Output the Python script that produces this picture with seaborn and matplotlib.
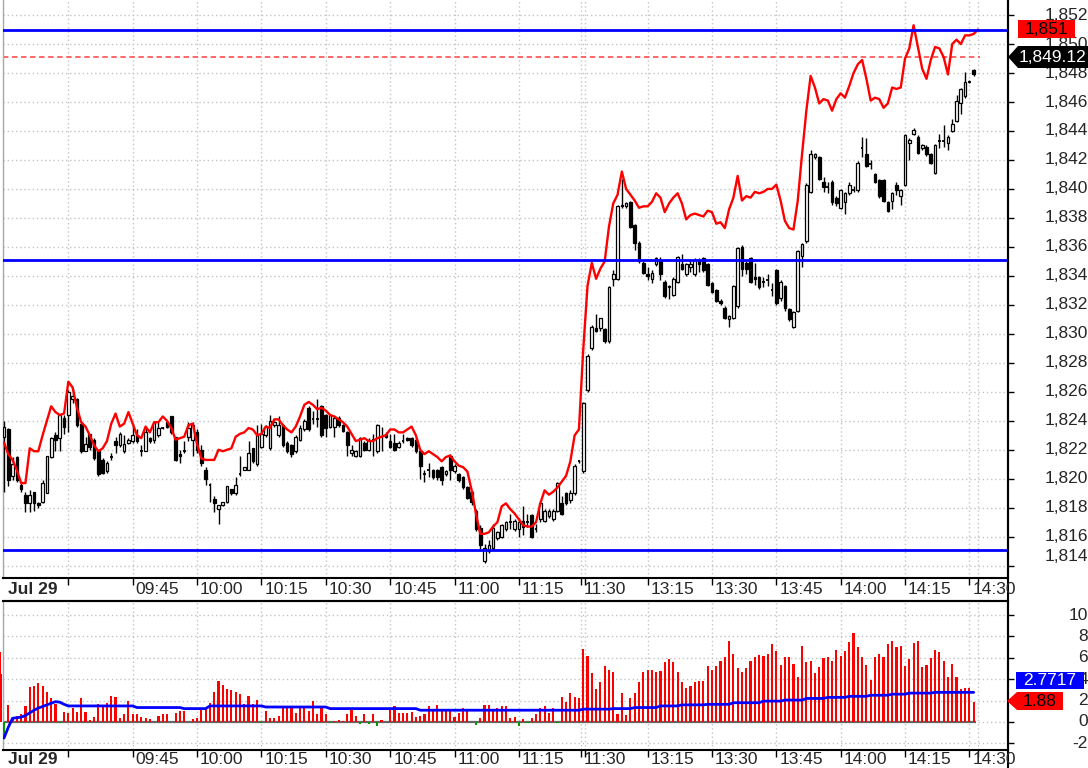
import numpy as np
import pandas as pd
import seaborn as sns
import matplotlib.pyplot as plt
from matplotlib import transforms
from matplotlib.patches import Polygon

# 1-minute bars, index 0 = 09:15, morning ends at 134, afternoon starts at 135 (13:00)
opens = [
    1822.9, 1823.4, 1820.2, 1821.5, 1819.6, 1818.9, 1818.3, 1819.1, 1818.3, 1818.4,
    1819.0, 1821.5, 1823.0, 1822.8, 1824.2, 1824.4, 1825.5, 1825.5, 1823.8, 1821.9,
    1823.1, 1822.7, 1822.0, 1821.3, 1820.5, 1821.5, 1822.6, 1822.3, 1821.9, 1822.5,
    1822.6, 1823.0, 1821.9, 1821.9, 1822.8, 1822.7, 1823.0, 1823.5, 1823.9, 1824.3,
    1822.9, 1821.7, 1821.9, 1822.9, 1822.7, 1823.2, 1822.0, 1820.6, 1819.6, 1818.6,
    1817.9, 1818.2, 1818.4, 1819.3, 1819.0, 1820.3, 1820.6, 1820.6, 1822.1, 1821.0,
    1822.2, 1823.0, 1822.1, 1823.7, 1823.0, 1823.7, 1822.5, 1822.3, 1821.9, 1822.7,
    1823.4, 1824.9, 1824.1, 1824.1, 1825.0, 1824.4, 1823.6, 1823.6, 1824.2, 1823.7,
    1823.2, 1821.8, 1821.6, 1821.6, 1822.5, 1822.0, 1822.7, 1821.9, 1822.9, 1823.1,
    1822.6, 1822.5, 1822.2, 1822.6, 1822.8, 1822.8, 1822.7, 1821.9, 1820.3, 1820.6,
    1820.6, 1820.6, 1820.8, 1820.3, 1821.6, 1820.5, 1820.3, 1820.1, 1819.4, 1819.1,
    1817.8, 1816.6, 1814.3, 1815.0, 1815.2, 1815.9, 1816.0, 1816.5, 1817.0, 1816.5,
    1816.5, 1817.1, 1817.0, 1817.5, 1816.5, 1817.2, 1817.1, 1817.4, 1817.2, 1817.8,
    1818.3, 1819.0, 1818.5, 1819.0, 1821.2, 1820.5, 1826.1, 1829.0, 1830.4, 1830.4,
    1830.3, 1829.5, 1833.8, 1833.8, 1838.9, 1838.8, 1839.1, 1837.5, 1836.3, 1834.9,
    1834.1, 1833.8, 1834.8, 1835.1, 1833.6, 1833.3, 1832.7, 1833.6, 1834.8, 1834.1,
    1834.6, 1834.1, 1835.1, 1835.2, 1834.8, 1833.5, 1833.0, 1832.3, 1831.8, 1831.0,
    1831.1, 1831.9, 1836.0, 1834.9, 1835.2, 1833.9, 1833.9, 1833.6, 1833.7, 1833.0,
    1834.4, 1832.5, 1833.3, 1831.7, 1830.5, 1831.6, 1835.4, 1836.4, 1839.8, 1842.2,
    1842.2, 1840.5, 1840.1, 1840.5, 1839.4, 1838.7, 1839.1, 1839.7, 1839.9, 1839.9,
    1842.8, 1842.4, 1841.7, 1841.0, 1840.6, 1840.6, 1839.1, 1839.2, 1840.3, 1839.5,
    1840.3, 1843.2, 1843.8, 1843.6, 1842.8, 1842.9, 1842.4, 1841.1, 1843.3, 1843.3,
    1843.2, 1844.0, 1844.7, 1845.9, 1846.4, 1847.4, 1848.2,
]
highs = [
    1824.0, 1823.5, 1821.5, 1821.6, 1819.8, 1819.1, 1819.2, 1819.1, 1818.4, 1819.9,
    1821.6, 1822.9, 1823.2, 1824.4, 1824.4, 1826.1, 1826.2, 1825.6, 1823.9, 1822.9,
    1823.1, 1822.8, 1822.0, 1821.4, 1821.2, 1821.8, 1822.9, 1823.2, 1823.0, 1822.8,
    1823.8, 1823.4, 1822.3, 1823.6, 1822.9, 1824.0, 1823.9, 1823.6, 1824.0, 1824.3,
    1822.9, 1822.0, 1822.6, 1823.9, 1823.9, 1823.4, 1822.3, 1820.8, 1819.7, 1818.8,
    1818.2, 1818.4, 1819.5, 1819.3, 1820.1, 1821.6, 1820.8, 1822.6, 1822.1, 1823.7,
    1823.8, 1823.7, 1824.4, 1824.0, 1824.3, 1823.8, 1822.6, 1822.4, 1823.0, 1823.7,
    1824.1, 1825.0, 1824.7, 1825.5, 1825.1, 1824.5, 1824.5, 1824.3, 1824.3, 1823.8,
    1823.3, 1822.3, 1822.0, 1822.9, 1822.6, 1822.8, 1823.1, 1823.8, 1823.6, 1823.2,
    1823.1, 1823.1, 1822.6, 1823.1, 1822.9, 1822.9, 1822.8, 1822.0, 1820.6, 1821.1,
    1820.7, 1820.7, 1820.9, 1820.6, 1821.7, 1821.0, 1820.4, 1820.2, 1819.5, 1819.2,
    1817.9, 1816.8, 1815.5, 1815.8, 1816.9, 1816.4, 1816.9, 1817.1, 1817.6, 1817.2,
    1817.3, 1818.1, 1817.6, 1817.6, 1816.9, 1818.4, 1817.9, 1817.9, 1817.9, 1819.8,
    1818.8, 1819.1, 1819.2, 1821.0, 1821.3, 1825.3, 1828.6, 1830.6, 1831.4, 1831.1,
    1830.4, 1833.3, 1834.4, 1838.9, 1840.7, 1839.1, 1839.2, 1837.6, 1836.4, 1835.0,
    1834.6, 1834.4, 1835.3, 1835.3, 1833.7, 1833.4, 1833.9, 1835.4, 1835.5, 1834.9,
    1835.1, 1835.2, 1835.2, 1835.3, 1834.9, 1833.6, 1833.1, 1832.4, 1831.9, 1831.3,
    1833.4, 1836.0, 1836.1, 1835.0, 1835.3, 1834.9, 1834.0, 1833.9, 1834.1, 1833.5,
    1834.5, 1833.7, 1833.4, 1831.8, 1831.6, 1835.8, 1836.3, 1840.4, 1842.7, 1842.5,
    1842.3, 1840.8, 1840.5, 1840.6, 1839.5, 1840.0, 1839.8, 1840.5, 1840.2, 1841.9,
    1843.6, 1843.5, 1842.0, 1841.1, 1840.7, 1840.7, 1839.2, 1839.8, 1840.5, 1840.0,
    1843.8, 1843.5, 1844.2, 1843.7, 1843.1, 1843.0, 1842.5, 1843.1, 1843.8, 1844.4,
    1843.7, 1844.8, 1846.5, 1847.0, 1848.1, 1847.5, 1848.3,
]
lows = [
    1819.1, 1819.5, 1819.9, 1819.8, 1819.1, 1817.7, 1817.7, 1817.8, 1818.0, 1818.3,
    1819.0, 1821.4, 1821.9, 1821.9, 1823.1, 1823.2, 1825.2, 1823.6, 1821.8, 1821.9,
    1822.0, 1821.3, 1820.2, 1820.3, 1820.4, 1821.3, 1821.8, 1822.2, 1821.8, 1822.4,
    1822.5, 1822.5, 1821.6, 1821.9, 1822.5, 1822.5, 1822.9, 1823.4, 1823.5, 1823.1,
    1821.2, 1821.1, 1821.8, 1822.6, 1821.6, 1821.8, 1820.9, 1819.6, 1818.4, 1817.7,
    1816.9, 1818.1, 1818.3, 1818.9, 1818.9, 1820.2, 1820.6, 1820.6, 1821.1, 1820.9,
    1822.1, 1822.9, 1822.0, 1823.6, 1822.9, 1822.2, 1821.8, 1821.5, 1821.8, 1822.6,
    1823.3, 1823.3, 1823.8, 1823.6, 1822.9, 1822.9, 1823.5, 1822.9, 1823.6, 1823.2,
    1821.6, 1821.6, 1821.5, 1821.5, 1821.9, 1821.9, 1821.6, 1821.8, 1821.9, 1822.8,
    1822.1, 1821.9, 1822.1, 1822.5, 1822.6, 1822.2, 1821.8, 1820.0, 1819.8, 1820.1,
    1820.0, 1819.9, 1819.6, 1820.2, 1819.9, 1820.4, 1819.8, 1819.3, 1818.6, 1818.2,
    1816.4, 1815.0, 1814.2, 1814.9, 1815.1, 1815.8, 1815.9, 1816.4, 1816.5, 1816.4,
    1816.0, 1816.1, 1816.7, 1815.9, 1816.3, 1817.0, 1817.0, 1817.3, 1817.1, 1817.7,
    1817.5, 1818.2, 1818.3, 1818.9, 1821.1, 1820.4, 1826.0, 1828.9, 1830.1, 1830.2,
    1829.4, 1829.4, 1833.3, 1833.7, 1838.7, 1838.7, 1837.3, 1835.8, 1834.9, 1834.1,
    1833.7, 1833.5, 1834.7, 1833.7, 1832.5, 1832.4, 1832.6, 1833.5, 1834.4, 1834.0,
    1834.3, 1834.0, 1834.3, 1834.3, 1833.3, 1832.8, 1832.2, 1832.0, 1831.0, 1830.5,
    1831.0, 1831.8, 1834.0, 1834.1, 1833.5, 1833.4, 1833.1, 1833.2, 1833.3, 1832.6,
    1832.0, 1832.3, 1831.6, 1830.9, 1830.4, 1831.5, 1834.6, 1836.3, 1839.7, 1842.1,
    1840.6, 1839.8, 1839.7, 1838.9, 1838.8, 1838.6, 1838.3, 1839.6, 1839.8, 1839.8,
    1842.2, 1841.5, 1841.4, 1840.4, 1839.4, 1839.1, 1838.4, 1838.6, 1839.6, 1838.9,
    1840.2, 1842.0, 1843.7, 1842.4, 1842.7, 1842.3, 1841.7, 1841.0, 1842.8, 1842.9,
    1842.7, 1843.9, 1844.6, 1845.2, 1846.3, 1847.3, 1847.8,
]
closes = [
    1823.6, 1819.9, 1821.0, 1819.9, 1819.3, 1818.3, 1818.9, 1818.3, 1818.2, 1819.7,
    1821.6, 1822.8, 1822.7, 1824.4, 1823.6, 1826.0, 1825.7, 1823.7, 1821.9, 1822.4,
    1822.2, 1821.4, 1820.3, 1820.4, 1821.1, 1821.5, 1822.3, 1823.1, 1822.4, 1822.7,
    1823.0, 1822.6, 1821.9, 1823.2, 1822.6, 1823.9, 1823.5, 1823.5, 1823.6, 1823.2,
    1821.3, 1821.6, 1821.9, 1823.5, 1823.7, 1822.0, 1821.1, 1820.0, 1819.6, 1818.3,
    1818.2, 1818.4, 1819.5, 1819.0, 1819.6, 1820.3, 1820.8, 1821.8, 1821.2, 1823.0,
    1823.1, 1823.6, 1824.0, 1823.9, 1823.7, 1822.3, 1821.9, 1821.7, 1822.9, 1823.5,
    1824.0, 1823.4, 1824.1, 1824.1, 1823.0, 1823.5, 1824.4, 1824.2, 1823.7, 1823.3,
    1822.3, 1822.0, 1821.9, 1822.8, 1822.0, 1822.7, 1822.7, 1823.7, 1822.9, 1822.9,
    1822.2, 1822.0, 1822.5, 1822.6, 1822.7, 1822.3, 1821.9, 1820.9, 1820.3, 1820.6,
    1820.1, 1820.1, 1819.9, 1820.5, 1820.6, 1820.9, 1819.9, 1819.4, 1818.7, 1818.4,
    1816.5, 1815.4, 1815.2, 1815.4, 1816.6, 1816.3, 1816.8, 1817.0, 1817.0, 1817.1,
    1817.0, 1816.7, 1817.0, 1816.0, 1816.5, 1818.3, 1817.8, 1817.8, 1817.8, 1819.7,
    1817.6, 1818.3, 1819.0, 1820.9, 1821.2, 1825.2, 1828.5, 1830.5, 1830.2, 1831.1,
    1829.5, 1833.2, 1834.1, 1838.8, 1838.8, 1839.0, 1837.4, 1836.3, 1835.0, 1834.2,
    1834.0, 1834.2, 1835.2, 1834.1, 1832.6, 1833.2, 1833.8, 1835.3, 1834.5, 1834.8,
    1834.8, 1835.1, 1834.8, 1834.4, 1833.4, 1832.9, 1832.3, 1832.1, 1831.1, 1831.2,
    1833.3, 1835.9, 1834.5, 1834.5, 1833.6, 1833.8, 1833.2, 1833.6, 1833.7, 1833.0,
    1832.1, 1833.6, 1831.8, 1831.0, 1831.5, 1835.7, 1836.2, 1840.3, 1842.4, 1842.4,
    1840.7, 1840.1, 1840.1, 1839.1, 1839.0, 1839.9, 1839.7, 1840.3, 1839.9, 1841.8,
    1842.8, 1841.6, 1841.7, 1840.5, 1839.5, 1839.2, 1838.5, 1839.7, 1839.9, 1839.9,
    1843.7, 1843.4, 1844.1, 1842.5, 1843.0, 1842.4, 1841.8, 1843.0, 1843.3, 1843.3,
    1843.6, 1844.5, 1846.1, 1846.9, 1847.4, 1847.4, 1847.9,
]
# red indicator line (one point longer than the candles)
red_line = [
    1822.5, 1821.7, 1821.3, 1820.6, 1819.7, 1819.7, 1822.1, 1821.9, 1821.9, 1823.0,
    1824.0, 1825.0, 1824.6, 1824.4, 1824.5, 1826.7, 1826.3, 1824.9, 1823.9, 1823.6,
    1823.0, 1822.3, 1821.9, 1822.1, 1822.6, 1823.8, 1824.5, 1823.6, 1823.8, 1824.6,
    1823.8, 1823.0, 1822.8, 1823.6, 1823.2, 1823.9, 1823.9, 1824.3, 1824.0, 1823.5,
    1822.7, 1822.8, 1822.9, 1823.7, 1823.8, 1822.4, 1821.4, 1821.3, 1821.3, 1821.3,
    1822.0, 1821.9, 1822.0, 1822.1, 1822.9, 1823.1, 1823.2, 1823.5, 1823.4, 1823.0,
    1823.1, 1823.6, 1823.5, 1824.1, 1824.1, 1823.7, 1823.4, 1823.2, 1823.6, 1824.3,
    1825.1, 1825.3, 1825.1, 1824.8, 1824.9, 1824.7, 1824.4, 1824.3, 1824.1, 1823.9,
    1823.6, 1823.1, 1822.6, 1822.7, 1822.8, 1822.6, 1822.6, 1822.8, 1822.9, 1823.0,
    1823.4, 1823.4, 1823.2, 1823.2, 1823.4, 1823.6, 1823.0, 1822.0, 1821.7, 1821.9,
    1821.7, 1821.5, 1821.2, 1821.5, 1821.6, 1821.2, 1820.9, 1820.8, 1820.5, 1819.2,
    1817.6, 1816.2, 1816.2, 1816.3, 1816.7, 1817.0, 1818.1, 1818.3, 1817.9, 1817.6,
    1817.2, 1816.8, 1816.7, 1816.7, 1817.0, 1818.3, 1819.2, 1818.9, 1819.1, 1819.4,
    1819.8, 1820.2, 1821.2, 1823.0, 1823.4, 1828.9, 1833.3, 1834.9, 1833.8, 1834.5,
    1835.0, 1837.4, 1839.0, 1839.6, 1841.2, 1840.0, 1839.6, 1839.2, 1838.7, 1838.8,
    1838.8, 1839.1, 1839.7, 1839.4, 1838.4, 1839.0, 1839.4, 1839.7, 1839.0, 1837.9,
    1838.2, 1838.3, 1838.2, 1838.1, 1838.5, 1838.4, 1837.6, 1837.7, 1837.3, 1838.6,
    1839.4, 1840.9, 1839.2, 1839.5, 1839.4, 1839.8, 1839.7, 1839.8, 1840.0, 1840.0,
    1840.3, 1839.2, 1837.8, 1837.3, 1837.2, 1839.2, 1842.4, 1845.4, 1847.8, 1847.0,
    1845.9, 1846.2, 1846.1, 1845.4, 1846.2, 1846.6, 1846.3, 1847.1, 1848.0, 1848.6,
    1848.9, 1847.6, 1846.1, 1846.3, 1846.2, 1845.6, 1845.9, 1847.0, 1846.9, 1847.0,
    1849.0, 1849.7, 1851.3, 1849.8, 1848.3, 1847.6, 1848.9, 1849.8, 1849.7, 1849.1,
    1847.9, 1850.0, 1850.3, 1850.0, 1850.6, 1850.6, 1850.7, 1851.0,
]
# lower panel: oscillator bars and its average line
osc_bars = [
    -1.5, 1.6, 0.4, 0.6, 0.7, 1.5, 3.3, 3.4, 3.6, 3.4,
    2.8, 2.2, 1.7, -0.1, 0.9, 0.8, 1.3, 0.9, 2.2, 0.9,
    0.2, 0.5, 1.7, 1.5, 1.8, 2.4, 2.3, 0.4, 0.7, 2.0,
    0.7, 0.7, 0.5, 0.4, 0.3, 0.0, 0.6, 0.7, 0.7, 0.0,
    0.8, 1.0, 1.0, 0.0, 0.25, 0.4, 1.2, 1.3, 1.8, 2.8,
    3.8, 3.5, 3.1, 3.0, 2.8, 2.6, 1.7, 2.4, 1.7, 2.1,
    -0.1, 1.0, 0.4, 0.4, 0.6, 1.3, 1.4, 1.3, 0.8, 1.3,
    1.3, 1.0, 2.0, 0.7, 1.3, 0.7, -0.1, 0.1, 0.2, 0.1,
    0.7, 1.3, 0.6, -0.2, 0.7, -0.2, 0.7, -0.4, 0.2, 0.0,
    1.3, 1.5, 0.8, 0.8, 0.8, 0.9, 0.5, 0.6, 0.7, 1.5,
    1.2, 1.6, 1.2, 1.2, 1.2, 0.5, 0.8, 1.3, 1.0, 0.0,
    -0.3, 0.4, 1.6, 1.6, 1.2, 1.3, 1.5, 1.5, 0.4, 0.5,
    -0.4, 0.3, -0.1, 0.4, 0.7, 1.3, 1.5, 0.8, 1.3, -0.05,
    2.3, 1.9, 2.75, 2.3, 2.2, 6.8, 6.2, 4.6, 3.1, 3.75,
    5.25, 4.9, 4.7, 0.7, 2.75, 0.65, 2.2, 2.75, 3.7, 4.7,
    4.85, 4.9, 4.7, 4.8, 5.6, 5.9, 5.6, 4.7, 3.7, 3.2,
    3.4, 3.7, 3.8, 3.8, 5.25, 4.9, 5.25, 5.7, 6.1, 7.6,
    6.4, 5.0, 4.7, 5.0, 5.7, 6.1, 6.25, 6.2, 6.4, 7.3,
    6.6, 5.3, 6.1, 6.1, 5.4, 4.2, 7.1, 5.65, 5.7, 4.6,
    5.1, 6.0, 6.1, 5.7, 6.75, 6.2, 6.65, 7.5, 8.3, 7.0,
    6.1, 5.3, 3.9, 6.1, 6.4, 6.1, 7.3, 7.6, 7.0, 7.1,
    5.25, 5.9, 7.4, 7.6, 5.15, 5.3, 6.0, 6.7, 6.5, 5.7,
    4.2, 5.4, 4.2, 3.1, 3.2, 3.15, 1.88,
]
# bars of the previous minute, drawn half outside the left border
pre_bars = [6.5, 4.5]
osc_avg = [
    -1.5, -0.5, 0.35, 0.4, 0.45, 0.6, 0.85, 1.1, 1.3, 1.45,
    1.6, 1.75, 1.9, 1.85, 1.65, 1.5, 1.5, 1.5, 1.5, 1.5,
    1.5, 1.5, 1.5, 1.5, 1.5, 1.5, 1.5, 1.5, 1.5, 1.5,
    1.5, 1.35, 1.35, 1.35, 1.35, 1.35, 1.35, 1.35, 1.35, 1.35,
    1.35, 1.35, 1.25, 1.25, 1.25, 1.25, 1.25, 1.25, 1.5, 1.5,
    1.5, 1.5, 1.5, 1.5, 1.5, 1.5, 1.5, 1.5, 1.5, 1.5,
    1.5, 1.4, 1.4, 1.4, 1.4, 1.4, 1.4, 1.4, 1.4, 1.4,
    1.4, 1.4, 1.4, 1.4, 1.4, 1.4, 1.25, 1.25, 1.25, 1.25,
    1.25, 1.25, 1.25, 1.25, 1.25, 1.25, 1.25, 1.25, 1.25, 1.25,
    1.25, 1.25, 1.25, 1.25, 1.25, 1.25, 1.25, 1.1, 1.1, 1.1,
    1.1, 1.1, 1.1, 1.1, 1.1, 1.1, 1.1, 1.1, 1.1, 1.1,
    1.1, 1.1, 1.1, 1.1, 1.1, 1.1, 1.1, 1.1, 1.1, 1.1,
    1.1, 1.1, 1.1, 1.1, 1.1, 1.1, 1.1, 1.1, 1.1, 1.1,
    1.1, 1.1, 1.1, 1.1, 1.1, 1.2, 1.2, 1.2, 1.2, 1.2,
    1.2, 1.2, 1.25, 1.25, 1.25, 1.25, 1.25, 1.35, 1.35, 1.35,
    1.35, 1.35, 1.35, 1.5, 1.5, 1.5, 1.5, 1.5, 1.6, 1.6,
    1.6, 1.6, 1.6, 1.6, 1.65, 1.65, 1.65, 1.65, 1.65, 1.65,
    1.8, 1.8, 1.8, 1.8, 1.8, 1.8, 1.8, 1.95, 1.95, 1.95,
    1.95, 1.95, 2.05, 2.05, 2.05, 2.05, 2.05, 2.2, 2.2, 2.2,
    2.2, 2.2, 2.3, 2.3, 2.3, 2.3, 2.3, 2.4, 2.4, 2.4,
    2.4, 2.4, 2.5, 2.5, 2.5, 2.5, 2.5, 2.6, 2.6, 2.6,
    2.6, 2.7, 2.7, 2.7, 2.7, 2.7, 2.7, 2.77, 2.77, 2.77,
    2.77, 2.77, 2.77, 2.77, 2.77, 2.77, 2.77,
]

levels = [1851.0, 1835.1, 1815.1]
last_price = 1849.12
red_last = 1851
avg_last = 2.7717
bar_last = 1.88

tick_pos = [15, 30, 45, 60, 75, 90, 105, 120, 134.4, 135.4,
            150, 165, 180, 195, 210, 225, 226.9]
tick_labels = ['', '09:45', '10:00', '10:15', '10:30', '10:45', '11:00', '11:15', '11:30', '',
               '13:15', '13:30', '13:45', '14:00', '14:15', '14:30', '']
price_ticks = list(range(1814, 1853, 2))
osc_ticks = [-2, 0, 2, 4, 6, 8, 10]

sns.set_style('white')
plt.rcParams['font.family'] = ['Liberation Sans', 'DejaVu Sans']

W, H = 1088, 768
fig = plt.figure(figsize=(W / 100, H / 100), dpi=100)


def fx(px):
    return px / W


def fy(py):
    return 1 - py / H


left, right = 3.3, 1008
low_top, low_bot = 601, 750
ax = fig.add_axes([fx(left), fy(578), fx(right) - fx(left), fy(0) - fy(578)])
ax2 = fig.add_axes([fx(left), fy(low_bot), fx(right) - fx(left), fy(low_top) - fy(low_bot)])

x_lim = (-0.16, 234.0)
grid_kw = dict(color='#c4c4c4', linestyle=(0, (1, 2)), linewidth=1)

for a in (ax, ax2):
    a.set_xlim(*x_lim)
    a.set_facecolor('white')
    a.set_xticks(tick_pos)
    a.set_xticklabels([])
    a.tick_params(axis='x', bottom=True, length=5, width=1, color='black', direction='out')
    a.yaxis.tick_right()
    a.tick_params(axis='y', right=True, left=False, length=4, width=1, color='black',
                  labelright=False, direction='out')
    a.grid(True, **grid_kw)
    a.set_axisbelow(True)
    a.spines['top'].set_visible(False)
    a.spines['left'].set_color('#a8a8a8')
    a.spines['left'].set_linewidth(1)
    a.spines['right'].set_color('black')
    a.spines['right'].set_linewidth(1.5)
    a.spines['bottom'].set_color('black')
    a.spines['bottom'].set_linewidth(1.5)

ax.set_ylim(1813.15, 1853.04)
ax.set_yticks(price_ticks)
ax2.set_ylim(-2.62, 11.31)
ax2.set_yticks(osc_ticks)
ax2.spines['top'].set_visible(True)
ax2.spines['top'].set_color('black')
ax2.spines['top'].set_linewidth(1.5)

# candles
idx = np.arange(len(closes))
o = np.array(opens)
c = np.array(closes)
ax.vlines(idx, lows, highs, color='black', linewidth=1, zorder=3)
body_w = 0.62
up = c > o
down = c < o
flat = c == o
ax.bar(idx[up], (c - o)[up], bottom=o[up], width=body_w, color='white',
       edgecolor='black', linewidth=0.9, zorder=4)
ax.bar(idx[down], (o - c)[down], bottom=c[down], width=body_w, color='black',
       edgecolor='black', linewidth=0.9, zorder=4)
ax.hlines(c[flat], idx[flat] - body_w / 2, idx[flat] + body_w / 2, color='black',
          linewidth=1.3, zorder=4)

red_df = pd.DataFrame({'i': np.arange(len(red_line)), 'v': red_line})
sns.lineplot(data=red_df, x='i', y='v', ax=ax, color='#ff0000', linewidth=1.7, zorder=5)

for lv in levels:
    ax.axhline(lv, color='#0000ff', linewidth=2, zorder=6)
ax.hlines(last_price, x_lim[0], len(red_line) - 0.5, color='#ff5a5a', linewidth=1.3,
          linestyles=(0, (3, 2)), zorder=2)

# lower panel
osc = np.array(osc_bars)
ox = np.arange(len(osc))
ax2.bar(ox[osc >= 0], osc[osc >= 0], width=0.5, color='#ff0000', linewidth=0, zorder=3)
ax2.bar(ox[osc < 0], osc[osc < 0], width=0.5, color='#009900', linewidth=0, zorder=3)
pre = ax2.bar([-0.9, -0.6], pre_bars, width=0.3, color='#ff0000', linewidth=0, zorder=3)
for p in pre:
    p.set_clip_on(False)
ax2.hlines(0, x_lim[0], len(osc) - 0.5, color='#666666', linewidth=1.6, zorder=2)
avg_df = pd.DataFrame({'i': np.arange(len(osc_avg)), 'v': osc_avg})
sns.lineplot(data=avg_df, x='i', y='v', ax=ax2, color='#0000ff', linewidth=2, zorder=4)
for a in (ax, ax2):
    a.set_xlabel('')
    a.set_ylabel('')

# time labels in both strips
fs = 12.5
off = transforms.ScaledTranslation(3 / 100, 0, fig.dpi_scale_trans)
for a, ypx in ((ax, 589), (ax2, 759)):
    tr = transforms.blended_transform_factory(a.transData, fig.transFigure) + off
    fig.text(0.3, fy(ypx), 'Jul 29', transform=tr, ha='left', va='center',
             fontsize=fs, fontweight='bold')
    for p, t in zip(tick_pos, tick_labels):
        if t:
            fig.text(p, fy(ypx), t, transform=tr, ha='left', va='center', fontsize=fs)

# right value labels
for a, vals, fmt in ((ax, price_ticks, '{:,}'), (ax2, osc_ticks, '{}')):
    tr = transforms.blended_transform_factory(fig.transFigure, a.transData)
    for v in vals:
        t = tr
        if a is ax and v == 1814:
            t = tr + transforms.ScaledTranslation(0, 9 / 100, fig.dpi_scale_trans)
        a.text(fx(1088), v, fmt.format(v), transform=t, ha='right', va='center',
               fontsize=fs, clip_on=False, zorder=1)

# continuous right border through strips
fig.add_artist(plt.Line2D([fx(right), fx(right)], [0, 1], color='black', linewidth=1.5))
fig.add_artist(plt.Line2D([fx(left), fx(right)], [fy(low_top), fy(low_top)], color='black',
                          linewidth=1.5))


def px_poly(points, color):
    pts = [(fx(px), fy(py)) for px, py in points]
    fig.add_artist(Polygon(pts, closed=True, facecolor=color, edgecolor='none',
                           transform=fig.transFigure, zorder=10))


px_poly([(1018, 20), (1075, 20), (1075, 38), (1018, 38)], '#ff0000')
fig.text(fx(1046.5), fy(29), f'{red_last:,}', ha='center', va='center', fontsize=fs,
         color='black', zorder=11)
px_poly([(1008, 57), (1018, 46), (1090, 46), (1090, 68), (1018, 68)], '#000000')
fig.text(fx(1086), fy(57), f'{last_price:,.2f}', ha='right', va='center', fontsize=fs,
         color='white', zorder=11)
px_poly([(1016, 672), (1084, 672), (1084, 689), (1016, 689)], '#0000ff')
fig.text(fx(1050), fy(680.5), f'{avg_last}', ha='center', va='center', fontsize=fs,
         color='white', zorder=11)
px_poly([(1007, 701), (1017, 692), (1063, 692), (1063, 710), (1017, 710)], '#ff0000')
fig.text(fx(1040), fy(701), f'{bar_last}', ha='center', va='center', fontsize=fs,
         color='black', zorder=11)

fig.savefig('out.png', dpi=100, facecolor='white')
